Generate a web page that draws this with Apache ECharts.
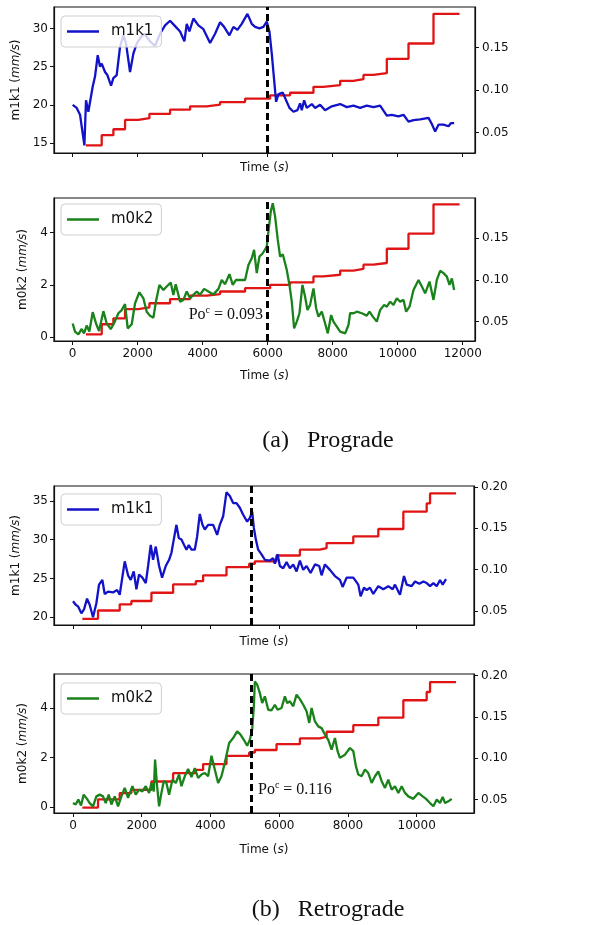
<!DOCTYPE html>
<html>
<head>
<meta charset="utf-8">
<script src="https://cdn.jsdelivr.net/npm/echarts@6/dist/echarts.min.js"></script>
<style>
html,body{margin:0;padding:0;background:#fff;}
#c{width:611px;height:925px;}
</style>
</head>
<body>
<div id="c"></div>
<script>
// ---------- DATA ----------
// Prograde
const progM1k1 = [[0,20.0],[123,19.6],[226,18.7],[360,14.7],[410,20.6],[482,19.1],[616,22.4],[687,23.7],[770,26.5],[841,25.0],[893,25.4],[995,24.3],[1067,23.9],[1180,22.5],[1251,23.5],[1354,23.9],[1457,27.6],[1560,29.1],[1642,28.0],[1765,24.3],[1867,26.7],[1970,28.0],[2072,28.7],[2195,29.3],[2277,28.9],[2380,28.3],[2534,27.7],[2688,29.3],[2842,30.4],[2996,31.0],[3150,30.3],[3304,29.6],[3437,28.3],[3509,30.6],[3591,29.6],[3714,31.3],[3868,30.4],[4022,29.9],[4227,28.1],[4381,29.3],[4535,30.8],[4658,30.2],[4822,29.1],[4945,30.2],[5068,29.8],[5201,30.6],[5376,31.9],[5509,30.6],[5612,30.2],[5745,30.0],[5868,30.2],[5971,30.9],[6053,29.6],[6125,26.7],[6197,23.3],[6259,20.4],[6331,21.4],[6464,21.6],[6566,20.6],[6669,19.6],[6792,19.1],[6915,19.3],[6997,20.2],[7048,19.3],[7120,20.6],[7202,19.6],[7356,20.1],[7459,19.6],[7613,20.0],[7767,19.3],[7972,19.8],[8229,20.1],[8434,19.7],[8639,19.9],[8844,19.6],[9049,19.9],[9254,19.7],[9459,19.9],[9665,18.6],[9819,18.7],[10024,18.5],[10178,18.7],[10332,17.8],[10486,18.0],[10691,18.1],[10947,18.3],[11050,17.5],[11152,16.5],[11255,17.4],[11409,17.4],[11563,17.2],[11635,17.6],[11737,17.6]];
const progM0k2 = [[0,0.53],[72,0.22],[174,0.11],[277,0.32],[349,0.15],[431,0.45],[513,0.22],[616,0.96],[718,0.53],[811,0.24],[944,1.0],[1047,0.53],[1170,0.31],[1303,0.62],[1406,0.92],[1508,1.04],[1611,1.27],[1693,0.34],[1816,0.50],[1919,1.30],[2052,1.72],[2175,1.49],[2277,0.98],[2380,0.82],[2483,0.75],[2565,1.39],[2668,2.0],[2791,1.81],[2893,1.94],[3016,2.09],[3098,1.62],[3170,2.03],[3304,1.36],[3406,1.43],[3509,1.75],[3612,1.49],[3714,1.62],[3817,1.75],[3919,1.62],[4042,1.85],[4176,1.75],[4330,1.64],[4484,1.85],[4586,2.19],[4689,2.03],[4822,2.41],[4925,2.0],[5027,2.19],[5150,2.19],[5304,2.19],[5407,2.76],[5509,3.02],[5581,3.34],[5663,2.45],[5745,3.08],[5848,3.21],[5971,3.46],[6022,4.04],[6094,4.80],[6156,5.12],[6228,4.61],[6310,3.72],[6382,3.08],[6464,3.17],[6587,2.57],[6669,2.0],[6741,1.36],[6813,0.34],[6895,0.60],[6977,0.92],[7069,2.0],[7151,1.55],[7223,1.04],[7305,1.24],[7408,1.87],[7490,1.11],[7562,0.79],[7664,0.98],[7767,0.53],[7849,0.15],[7951,0.85],[8023,0.60],[8126,0.41],[8229,0.22],[8383,0.15],[8485,0.47],[8536,0.92],[8639,0.92],[8742,0.98],[8895,0.92],[9049,0.83],[9131,0.98],[9234,0.79],[9357,0.60],[9459,1.04],[9582,1.24],[9665,1.17],[9767,1.36],[9870,1.24],[9973,1.49],[10075,1.36],[10178,1.43],[10260,0.98],[10363,1.17],[10486,1.81],[10640,2.19],[10742,1.94],[10845,1.68],[10978,2.13],[11101,1.43],[11204,2.19],[11306,2.54],[11409,2.45],[11512,2.32],[11594,2.0],[11666,2.25],[11737,1.81]];
const progPo = [[410,0.035],[893,0.047],[1252,0.054],[1611,0.065],[2021,0.067],[2360,0.072],[2996,0.077],[3612,0.081],[4125,0.083],[4535,0.086],[5304,0.090],[6074,0.094],[6689,0.097],[7408,0.104],[7716,0.106],[8229,0.111],[8639,0.113],[8947,0.118],[9254,0.120],[9665,0.137],[10332,0.155],[11101,0.190],[11902,0.190]];
const progCritical = 6000;
const progPoLabel = '0.093';

// Retrograde
const retroM1k1 = [[0,22.06],[78,21.6],[146,21.4],[243,20.5],[320,21.0],[408,22.4],[485,21.6],[583,20.0],[680,21.8],[757,24.2],[854,24.8],[922,23.0],[1019,23.3],[1165,23.2],[1282,23.5],[1359,22.9],[1505,27.2],[1602,25.4],[1680,24.8],[1767,25.9],[1845,23.6],[1922,25.5],[2019,25.1],[2117,24.4],[2185,26.6],[2262,29.3],[2330,27.4],[2408,29.1],[2505,26.6],[2592,25.1],[2699,26.6],[2796,27.4],[2864,28.3],[2932,30.0],[3010,31.9],[3078,30.2],[3155,30.0],[3233,29.3],[3301,28.7],[3369,29.3],[3447,28.7],[3544,28.7],[3612,30.4],[3689,33.3],[3767,31.9],[3835,31.3],[3932,31.9],[4078,31.9],[4194,30.6],[4272,31.9],[4369,33.0],[4466,36.1],[4563,35.6],[4660,34.7],[4757,34.7],[4854,34.1],[4952,33.2],[5068,32.3],[5146,32.8],[5214,33.6],[5262,31.5],[5321,30.0],[5388,28.7],[5486,28.1],[5583,27.4],[5728,27.3],[5825,27.6],[5874,26.9],[5952,28.1],[6020,26.6],[6117,26.3],[6214,27.1],[6311,26.3],[6408,26.8],[6505,25.9],[6602,27.3],[6699,26.1],[6796,26.6],[6913,25.7],[7039,26.8],[7165,26.6],[7233,25.4],[7330,26.8],[7476,26.1],[7622,25.3],[7767,24.8],[7845,23.9],[7961,25.1],[8156,25.1],[8301,24.2],[8369,22.7],[8466,23.8],[8544,23.5],[8641,23.8],[8738,23.0],[8884,24.0],[9029,23.6],[9175,24.0],[9301,23.6],[9369,24.2],[9466,23.3],[9515,22.9],[9631,25.3],[9709,24.2],[9854,24.0],[9952,24.6],[10078,24.3],[10194,24.6],[10291,24.4],[10389,24.0],[10486,24.4],[10583,24.0],[10680,24.8],[10757,24.2],[10854,24.9]];
const retroM0k2 = [[0,0.17],[78,0.11],[155,0.31],[233,0.07],[311,0.51],[408,0.34],[485,0.17],[583,0.04],[680,0.44],[777,0.51],[874,0.44],[951,0.17],[1039,0.51],[1117,0.11],[1214,0.44],[1311,0.04],[1408,0.44],[1505,0.78],[1602,0.38],[1728,0.85],[1825,0.51],[1922,0.71],[2019,0.64],[2117,0.85],[2214,0.58],[2282,0.98],[2350,0.64],[2388,1.92],[2447,0.85],[2505,0.04],[2573,0.58],[2641,1.05],[2718,0.98],[2796,0.51],[2893,1.11],[2990,0.98],[3087,1.32],[3155,0.85],[3252,1.25],[3350,1.54],[3447,1.22],[3544,1.58],[3641,1.18],[3738,1.32],[3835,1.38],[3932,1.25],[4029,2.08],[4126,1.52],[4223,0.98],[4320,1.25],[4417,1.79],[4544,2.59],[4660,2.79],[4777,3.06],[4874,2.93],[4971,2.72],[5068,2.48],[5146,2.72],[5214,3.13],[5262,4.07],[5291,5.07],[5359,4.94],[5437,4.60],[5505,4.20],[5583,4.47],[5680,3.93],[5777,3.91],[5874,4.13],[5952,3.93],[6068,4.0],[6165,4.47],[6233,4.20],[6311,4.27],[6408,4.07],[6505,4.54],[6602,4.36],[6699,4.13],[6796,3.87],[6874,3.40],[6942,4.0],[7039,3.46],[7136,3.26],[7233,3.19],[7330,2.93],[7427,2.72],[7524,2.32],[7622,2.79],[7699,2.26],[7767,1.99],[7913,2.12],[8058,2.39],[8156,2.26],[8233,1.65],[8301,1.32],[8398,1.25],[8495,1.52],[8592,1.38],[8690,0.98],[8787,1.25],[8884,1.45],[8981,1.05],[9078,0.78],[9175,1.11],[9272,0.71],[9369,0.85],[9466,0.58],[9563,0.85],[9660,0.58],[9757,0.44],[9903,0.34],[10049,0.58],[10175,0.44],[10272,0.34],[10389,0.17],[10486,0.04],[10583,0.31],[10680,0.17],[10757,0.42],[10825,0.17],[10922,0.24],[11019,0.34]];
const retroPo = [[272,0.0405],[728,0.0505],[1359,0.058],[1699,0.062],[2282,0.072],[2913,0.082],[3573,0.086],[3786,0.093],[4466,0.103],[5126,0.107],[5291,0.110],[5922,0.117],[6602,0.124],[7185,0.126],[7379,0.132],[8156,0.140],[8884,0.149],[9612,0.170],[10291,0.180],[10389,0.192],[11146,0.192]];
const retroCritical = 5200;
const retroPoLabel = '0.116';

// Tick labels
const progTimeTicks = [0,2000,4000,6000,8000,10000,12000];
const retroTimeTicks = [0,2000,4000,6000,8000,10000];
const progM1k1Ticks = [15,20,25,30];
const retroM1k1Ticks = [20,25,30,35];
const m0k2Ticks = [0,2,4];
const progPoTicks = [0.05,0.10,0.15];
const retroPoTicks = [0.05,0.10,0.15,0.20];
const captions = ['(a)   Prograde','(b)   Retrograde'];

// ---------- CHART ----------
const BLUE = '#1212c8', GREEN = '#1a821a', RED = '#e01414', INK = '#111';
const SANS = 'DejaVu Sans';
const SERIF = 'Liberation Serif';

const grids = [
  {left:54, top:7, width:421, height:146},
  {left:54, top:198, width:421, height:143},
  {left:54, top:486, width:420, height:139},
  {left:54, top:674, width:420, height:139}
];

function xAxis(gi, ticks, min, max, showLabels, gap){
  return {
    type:'value', gridIndex:gi, min:min, max:max,
    name:'{n|Time (}{i|s}{n|)}', nameLocation:'middle', nameGap:gap,
    nameTextStyle:{fontFamily:SANS, fontSize:12, color:INK,
      rich:{n:{fontFamily:SANS,fontSize:12,color:INK}, i:{fontFamily:SANS,fontSize:12,color:INK,fontStyle:'italic'}}},
    axisLine:{show:true, onZero:false, lineStyle:{color:INK,width:1.2}},
    axisTick:{show:true, length:4, customValues:ticks, lineStyle:{color:INK,width:1}},
    axisLabel:{show:showLabels, customValues:ticks, margin:7, fontFamily:SANS, fontSize:12, color:INK,
      formatter:v=>String(Math.round(v))},
    splitLine:{show:false}
  };
}
function yLeft(gi, ticks, min, max, label){
  return {
    type:'value', gridIndex:gi, min:min, max:max, position:'left',
    name:label, nameLocation:'middle', nameGap:25, nameRotate:90,
    nameTextStyle:{fontFamily:SANS, fontSize:12, color:INK,
      rich:{n:{fontFamily:SANS,fontSize:12,color:INK}, i:{fontFamily:SANS,fontSize:12,color:INK,fontStyle:'italic'}}},
    axisLine:{show:true, onZero:false, lineStyle:{color:INK,width:1.2}},
    axisTick:{show:true, length:4, customValues:ticks, lineStyle:{color:INK,width:1}},
    axisLabel:{show:true, customValues:ticks, margin:6, fontFamily:SANS, fontSize:12, color:INK,
      formatter:v=>String(v)},
    splitLine:{show:false}
  };
}
function yRight(gi, ticks, min, max){
  return {
    type:'value', gridIndex:gi, min:min, max:max, position:'right',
    axisLine:{show:true, onZero:false, lineStyle:{color:INK,width:1.2}},
    axisTick:{show:true, length:4, customValues:ticks, lineStyle:{color:INK,width:1}},
    axisLabel:{show:true, customValues:ticks, margin:7, fontFamily:SANS, fontSize:12, color:INK,
      formatter:v=>v.toFixed(2)},
    splitLine:{show:false}
  };
}
function legend(top, name){
  return {
    data:[name], left:61, top:top, orient:'vertical',
    backgroundColor:'rgba(255,255,255,0.8)', borderColor:'#cfcfcf', borderWidth:1, borderRadius:4,
    padding:[7,8,7,6], itemWidth:32, itemHeight:2.5, icon:'rect',
    itemStyle:{borderWidth:0},
    formatter:n=>n.split(' ')[0],
    textStyle:{fontFamily:SANS, fontSize:15, color:INK, padding:[0,0,0,7], lineHeight:17},
    selectedMode:false
  };
}
function mainSeries(name, data, xi, yi, color, crit){
  return {
    name:name, type:'line', xAxisIndex:xi, yAxisIndex:yi, data:data,
    symbol:'none', showSymbol:false, lineStyle:{color:color, width:2.3}, itemStyle:{color:color},
    z:3,
    markLine:{silent:true, symbol:['none','none'], label:{show:false},
      lineStyle:{color:'#000', width:3, type:[7,4]}, data:[{xAxis:crit}], z:5, animation:false}
  };
}
function poSeries(data, xi, yi){
  return {
    name:'Po', type:'line', step:'end', xAxisIndex:xi, yAxisIndex:yi, data:data,
    symbol:'none', showSymbol:false, lineStyle:{color:RED, width:2.3}, itemStyle:{color:RED}, z:2
  };
}

const option = {
  animation:false,
  backgroundColor:'#fff',
  grid: grids.map(g=>Object.assign({show:true, borderColor:INK, borderWidth:1.2, backgroundColor:'transparent'}, g)),
  xAxis:[
    xAxis(0, progTimeTicks, -575, 12378, false, 9),
    xAxis(1, progTimeTicks, -575, 12378, true, 29),
    xAxis(2, retroTimeTicks, -553, 11668, false, 11),
    xAxis(3, retroTimeTicks, -553, 11668, true, 31)
  ],
  yAxis:[
    yLeft(0, progM1k1Ticks, 13.7, 32.8, '{n|m1k1 (}{i|mm/s}{n|)}'),
    yRight(0, progPoTicks, 0.026, 0.198),
    yLeft(1, m0k2Ticks, -0.14, 5.32, '{n|m0k2 (}{i|mm/s}{n|)}'),
    yRight(1, progPoTicks, 0.027, 0.1975),
    yLeft(2, retroM1k1Ticks, 19.0, 36.9, '{n|m1k1 (}{i|mm/s}{n|)}'),
    yRight(2, retroPoTicks, 0.033, 0.201),
    yLeft(3, m0k2Ticks, -0.23, 5.37, '{n|m0k2 (}{i|mm/s}{n|)}'),
    yRight(3, retroPoTicks, 0.034, 0.2017)
  ],
  legend:[
    legend(16, 'm1k1 a'),
    legend(204, 'm0k2 a'),
    legend(494, 'm1k1 b'),
    legend(683, 'm0k2 b')
  ],
  series:[
    poSeries(progPo, 0, 1),
    mainSeries('m1k1 a', progM1k1, 0, 0, BLUE, progCritical),
    poSeries(progPo, 1, 3),
    mainSeries('m0k2 a', progM0k2, 1, 2, GREEN, progCritical),
    poSeries(retroPo, 2, 5),
    mainSeries('m1k1 b', retroM1k1, 2, 4, BLUE, retroCritical),
    poSeries(retroPo, 3, 7),
    mainSeries('m0k2 b', retroM0k2, 3, 6, GREEN, retroCritical)
  ],
  graphic:[
    {type:'text', x:263, y:315, z:10,
      style:{text:'{n|Po}{s|c}{n| = '+progPoLabel+'}', align:'right', verticalAlign:'middle',
        rich:{n:{fontFamily:SERIF,fontSize:16,fill:INK}, s:{fontFamily:SERIF,fontSize:10,fill:INK,padding:[0,0,9,0]}}}},
    {type:'text', x:258, y:790, z:10,
      style:{text:'{n|Po}{s|c}{n| = '+retroPoLabel+'}', align:'left', verticalAlign:'middle',
        rich:{n:{fontFamily:SERIF,fontSize:16,fill:INK}, s:{fontFamily:SERIF,fontSize:10,fill:INK,padding:[0,0,9,0]}}}},
    {type:'text', x:328, y:441, style:{text:captions[0], align:'center', verticalAlign:'middle',
      fontFamily:SERIF, fontSize:24, fill:INK}},
    {type:'text', x:328, y:910, style:{text:captions[1], align:'center', verticalAlign:'middle',
      fontFamily:SERIF, fontSize:24, fill:INK}}
  ]
};

const chart = echarts.init(document.getElementById('c'), null, {renderer:'canvas'});
chart.setOption(option);
</script>
</body>
</html>
